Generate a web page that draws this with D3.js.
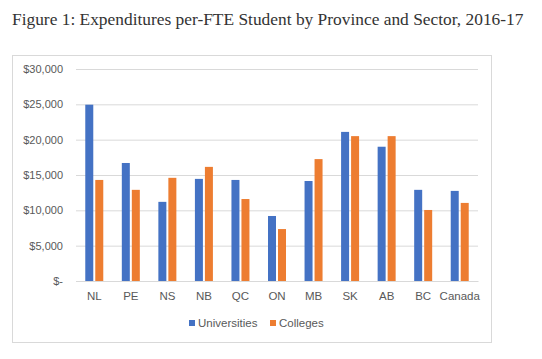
<!DOCTYPE html>
<html><head><meta charset="utf-8">
<script src="https://cdn.jsdelivr.net/npm/d3@7"></script>
<style>body{margin:0;background:#fff}svg{display:block}</style>
</head><body>
<script>
const categories = ["NL","PE","NS","NB","QC","ON","MB","SK","AB","BC","Canada"];
const universities = [24950,16700,11200,14450,14300,9200,14150,21100,19000,12900,12750];
const colleges = [14300,12900,14600,16150,11600,7350,17250,20500,20500,10050,11050];
const seriesNames = ["Universities","Colleges"];
const yTicks = [0,5000,10000,15000,20000,25000,30000];
const colors = ["#4472C4","#ED7D31"];

const W = 542, H = 359;
const svg = d3.select("body").append("svg").attr("width", W).attr("height", H);

const title = svg.append("text").attr("x", 12).attr("y", 25)
  .attr("font-family", "Liberation Serif").attr("font-size", 17).attr("fill", "#333")
  .text("Figure 1: Expenditures per-FTE Student by Province and Sector, 2016-17");
// fit to reference width
const tw = title.node().getComputedTextLength();
title.attr("font-size", 17 * 512 / tw);

svg.append("rect").attr("x", 12.5).attr("y", 55.5).attr("width", 479).attr("height", 287)
  .attr("fill", "none").attr("stroke", "#d9d9d9");

const x = d3.scaleBand().domain(categories).range([76, 478]);
const y = d3.scaleLinear().domain([0, 30000]).range([281, 69]);

const fmt = v => v === 0 ? "$-" : "$" + d3.format(",")(v);
const yAxis = svg.append("g").attr("transform", "translate(76,0)")
  .call(d3.axisLeft(y).tickValues(yTicks).tickFormat(fmt).tickSize(-402).tickPadding(13));
yAxis.select(".domain").remove();
yAxis.selectAll("line").attr("stroke", "#d9d9d9");
yAxis.selectAll("text").attr("font-family", "Liberation Sans, Arial").attr("font-size", 11).attr("fill", "#595959");

const xAxis = svg.append("g").attr("transform", "translate(0,281)")
  .call(d3.axisBottom(x).tickSize(0).tickPadding(11));
xAxis.select(".domain").attr("stroke", "#d9d9d9");
xAxis.selectAll("text").attr("font-family", "Liberation Sans, Arial").attr("font-size", 11.5).attr("fill", "#595959");

const bw = 8, gap = 2;
const series = [universities, colleges];
series.forEach((vals, si) => {
  svg.append("g").selectAll("rect").data(vals).join("rect")
    .attr("x", (d, i) => x(categories[i]) + x.bandwidth() / 2 - bw - gap / 2 + si * (bw + gap))
    .attr("y", d => y(d))
    .attr("width", bw)
    .attr("height", d => y(0) - y(d))
    .attr("fill", colors[si]);
});

const legend = svg.append("g");
const legX = [189, 270];
seriesNames.forEach((n, i) => {
  legend.append("rect").attr("x", legX[i]).attr("y", 320).attr("width", 6).attr("height", 6).attr("fill", colors[i]);
  legend.append("text").attr("x", legX[i] + 9).attr("y", 327).attr("font-family", "Liberation Sans, Arial")
    .attr("font-size", 11.5).attr("fill", "#595959").text(n);
});
</script>
</body></html>
